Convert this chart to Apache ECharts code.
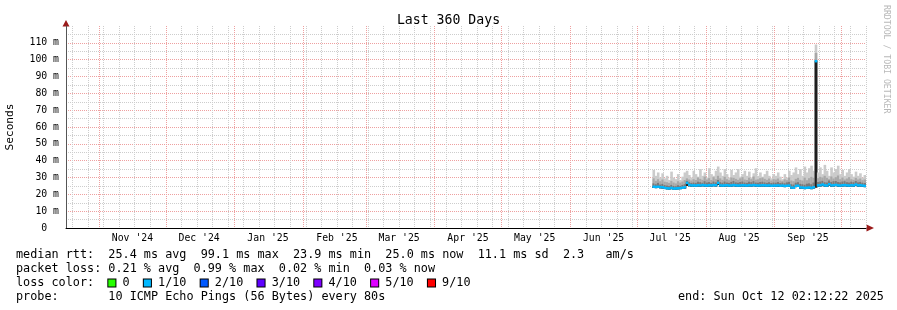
<!DOCTYPE html>
<html><head><meta charset="utf-8">
<script src="https://cdn.jsdelivr.net/npm/echarts@6/dist/echarts.min.js"></script>
<style>html,body{margin:0;padding:0;background:#fff}#c{width:897px;height:310px}</style>
</head><body><div id="c"></div>
<script>
// ---------- chart values ----------
const titleText = 'Last 360 Days';
const endTime = '2025-10-12T02:12:22Z';
const spanDays = 360;
const firstDay = '2025-07-08T12:00:00Z';   // one value per day from here on
const monthStarts = ['2024-11-01','2024-12-01','2025-01-01','2025-02-01','2025-03-01','2025-04-01',
                     '2025-05-01','2025-06-01','2025-07-01','2025-08-01','2025-09-01','2025-10-01'];
const monthLabels = ["Nov '24","Dec '24","Jan '25","Feb '25","Mar '25","Apr '25",
                     "May '25","Jun '25","Jul '25","Aug '25","Sep '25"];
const yTicks = [0,10,20,30,40,50,60,70,80,90,100,110];

// median rtt (ms), one per day
const median = [
 24.5,24.4,24.5,24.3,24.2,23.8,
 23.6,23.5,23.8,23.4,23.5,23.6,23.7,23.9,24.2,26.8,
 25.6,25.3,
 25.3,25.2,25.4,25.3,25.5,25.3,25.2,25.4,25.3,25.5,25.4,26.8,
 25.3,25.2,25.3,25.4,25.2,25.3,25.5,25.3,25.2,25.3,25.4,25.3,25.2,25.4,25.3,25.5,25.3,25.2,25.3,25.4,25.3,25.2,25.3,25.1,25.2,
 25.2,25.3,25.1,25.2,25.0,25.1,25.2,24.0,23.9,25.0,25.1,24.1,24.0,23.8,23.9,24.0,23.8,24.2,
 99.1,
 25.3,25.4,25.8,25.3,25.2,26.0,25.3,25.4,25.6,25.3,25.2,25.4,25.5,25.3,25.2,25.4,25.3,25.8,25.3,25.4,25.2,25.0
];
// lowest ping (ms)
const lowest = [
 23.8,23.7,23.9,23.6,23.5,23.2,
 23.0,22.9,23.1,22.8,22.9,23.0,23.1,23.2,23.5,25.0,
 24.8,24.6,
 24.6,24.5,24.7,24.6,24.8,24.6,24.5,24.7,24.6,24.8,24.7,25.6,
 24.6,24.5,24.6,24.7,24.5,24.6,24.8,24.6,24.5,24.6,24.7,24.6,24.5,24.7,24.6,24.8,24.6,24.5,24.6,24.7,24.6,24.5,24.6,24.4,24.5,
 24.5,24.6,24.4,24.5,24.3,24.4,24.5,23.4,23.2,24.3,24.4,23.4,23.3,23.1,23.2,23.3,23.1,23.5,
 24.0,
 24.6,24.7,25.0,24.6,24.5,25.2,24.6,24.7,24.9,24.6,24.5,24.7,24.8,24.6,24.5,24.7,24.6,25.0,24.6,24.7,24.5,24.3
];
// inner smoke top (ms)
const innerTop = [
 26.5,26.0,26.8,25.8,26.2,25.5,
 25.2,24.9,25.6,25.0,24.8,25.4,25.0,25.6,26.0,28.0,
 27.2,26.8,
 27.0,26.8,27.5,27.2,26.9,27.8,27.0,27.3,26.8,27.6,27.1,28.5,
 27.2,26.9,27.6,27.0,26.8,27.4,27.9,27.1,26.9,27.3,27.6,27.0,26.8,27.5,27.2,27.8,27.0,26.9,27.3,27.5,27.1,26.8,27.2,26.7,27.0,
 26.9,27.3,26.7,27.0,26.6,27.1,27.4,26.0,25.8,26.9,27.2,26.2,26.0,25.7,26.3,26.5,26.0,27.0,
 99.6,
 27.3,27.6,28.0,27.2,27.0,28.2,27.4,27.8,27.9,27.3,27.1,27.6,27.8,27.2,27.0,27.5,27.2,27.9,27.1,27.4,26.9,26.7
];
// middle smoke top (ms)
const midTop = [
 29.5,28.0,29.0,27.8,28.8,27.5,
 27.2,26.8,28.0,27.0,26.5,27.8,27.0,27.6,28.5,29.5,
 28.8,28.2,
 29.0,28.5,30.0,29.2,28.6,30.5,28.8,29.6,28.5,30.2,29.0,31.0,
 29.5,28.6,30.4,29.0,28.4,30.0,29.8,29.2,28.6,29.5,30.2,28.8,28.5,29.9,29.0,30.6,28.7,28.9,29.6,30.0,29.2,28.6,29.4,28.2,29.0,
 28.8,29.4,28.2,28.0,28.9,28.4,30.0,28.2,27.8,29.2,29.8,28.6,28.2,29.9,28.4,29.6,30.4,29.8,
 104.0,
 29.6,30.4,30.0,31.0,29.8,29.0,30.6,29.4,30.2,31.2,29.0,30.0,28.8,29.4,30.2,29.0,28.6,29.8,28.8,29.4,28.4,28.8
];
// highest ping (ms)
const outerTop = [
 34.5,31.0,33.0,30.0,32.5,29.5,
 31.0,28.5,33.5,30.0,29.0,32.0,28.5,30.5,33.0,34.0,
 31.5,30.0,
 34.0,32.0,30.5,35.0,31.0,33.0,30.0,35.5,32.0,31.0,34.0,36.5,
 33.0,31.0,35.0,32.0,30.0,34.5,31.5,33.0,35.0,30.5,32.0,34.0,31.0,33.5,30.0,32.5,35.5,31.0,33.0,30.5,32.0,34.0,31.0,29.5,32.0,
 31.0,33.0,30.5,29.0,32.0,30.0,34.0,31.5,33.0,36.0,32.0,35.0,31.0,36.5,33.0,35.5,37.0,34.0,
 109.0,
 33.0,36.0,32.0,37.5,34.0,31.0,36.0,33.0,35.0,37.0,32.0,34.5,31.0,33.0,35.0,32.0,30.5,33.5,31.0,32.5,30.0,31.5
];

const legendRows = [
 'median rtt:  25.4 ms avg  99.1 ms max  23.9 ms min  25.0 ms now  11.1 ms sd  2.3   am/s',
 'packet loss: 0.21 % avg  0.99 % max  0.02 % min  0.03 % now',
 null,
 'probe:       10 ICMP Echo Pings (56 Bytes) every 80s'
];
const lossNames  = ['0','1/10','2/10','3/10','4/10','5/10','9/10'];
const lossColors = ['#26ff00','#00b8ff','#0059ff','#5e00ff','#7e00ff','#dd00ff','#ff0000'];
const endText = 'end: Sun Oct 12 02:12:22 2025';
const watermark = 'RRDTOOL / TOBI OETIKER';

// ---------- build ----------
const DAY = 86400000;
const END = Date.parse(endTime);
const START = END - spanDays * DAY;
const FONT = 'DejaVu Sans Mono';
const t0 = Date.parse(firstDay);
const rows = median.map((m, i) => [t0 + i * DAY, lowest[i], m, innerTop[i], midTop[i], outerTop[i]]);

const monthTimes = monthStarts.map(s => Date.parse(s + 'T00:00:00Z')).filter(t => t > START && t < END);
const labelTimes = monthLabels.map((l, i) => Date.parse(monthStarts[i] + 'T00:00:00Z') + 15 * DAY);
const labelMap = {};
labelTimes.forEach((t, i) => labelMap[t] = monthLabels[i]);
const sundays = [];
{
  let d = new Date(START); d.setUTCHours(0,0,0,0);
  let t = d.getTime();
  while (new Date(t).getUTCDay() !== 0 || t < START) t += DAY;
  for (; t < END; t += 7 * DAY) sundays.push(t);
}

const minorColor = '#cdcdcd', majorColor = '#eea0a0';
const dotted = [1, 1];

function smokeItem(params, api) {
  const t = api.value(0);
  const xl = api.coord([t - DAY / 2, 0])[0];
  const xr = api.coord([t + DAY / 2, 0])[0];
  const lo = api.coord([t, api.value(1)])[1];
  const layers = [[5, '#cbcbcb'], [4, '#a8a8a8'], [3, '#7a7a7a'], [2, '#1e1e1e']];
  return { type: 'group', children: layers.map(([k, c]) => {
    const top = api.coord([t, api.value(k)])[1];
    return { type: 'rect', shape: { x: xl, y: top, width: xr - xl + 0.4, height: Math.max(0, lo - top) }, style: { fill: c } };
  }) };
}
function medianItem(params, api) {
  const t = api.value(0);
  const xl = api.coord([t - DAY / 2, 0])[0];
  const xr = api.coord([t + DAY / 2, 0])[0];
  const y = api.coord([t, api.value(2)])[1];
  return { type: 'rect', shape: { x: xl, y: y - 1.25, width: xr - xl + 0.4, height: 2.5 }, style: { fill: lossColors[1] } };
}

const rich = { b: {} };
lossColors.forEach((c, i) => rich['k' + i] = { width: 7.1, height: 7, backgroundColor: c, borderColor: '#000', borderWidth: 1, fontFamily: FONT, fontSize: 11.8 });
let lossLine = 'loss color:  ';
lossNames.forEach((n, i) => { lossLine += '{k' + i + '| }' + ' ' + n + (i < lossNames.length - 1 ? '  ' : ''); });

const rowY = [254.6, 268.8, 283.0, 297.2];
const graphics = [];
legendRows.forEach((txt, i) => {
  const text = txt === null ? lossLine : txt;
  graphics.push({ type: 'text', x: 16, y: rowY[i], style: { text, fontFamily: FONT, fontSize: 11.8, fill: '#000', verticalAlign: 'middle', rich: txt === null ? rich : undefined } });
});
graphics.push({ type: 'text', x: 678, y: rowY[3], style: { text: endText, fontFamily: FONT, fontSize: 11.8, fill: '#000', verticalAlign: 'middle' } });
graphics.push({ type: 'text', x: 886, y: 5, rotation: -Math.PI / 2, style: { text: watermark, fontFamily: FONT, fontSize: 8.2, fill: '#b8b8b8', align: 'left', verticalAlign: 'middle' } });
graphics.push({ type: 'polygon', shape: { points: [[62.5, 26.5], [69.5, 26.5], [66, 20]] }, style: { fill: '#9b1b1b' } });
graphics.push({ type: 'polygon', shape: { points: [[866.5, 224.5], [866.5, 231.5], [874, 228]] }, style: { fill: '#9b1b1b' } });

const chart = echarts.init(document.getElementById('c'), null, { renderer: 'canvas' });
chart.setOption({
  animation: false,
  backgroundColor: '#fff',
  title: { text: titleText, left: 'center', top: 14, padding: 0,
           textStyle: { fontFamily: FONT, fontSize: 13.2, fontWeight: 'normal', color: '#000' } },
  grid: { left: 66, right: 31, top: 26, bottom: 82, containLabel: false, outerBoundsMode: 'none' },
  xAxis: [
    { type: 'value', min: START, max: END, position: 'bottom',
      axisLine: { show: true, lineStyle: { color: '#000', width: 1 } },
      axisTick: { show: false, customValues: sundays },
      axisLabel: { customValues: labelTimes, formatter: v => labelMap[v] || '', margin: 5,
                   fontFamily: FONT, fontSize: 9.8, color: '#000', hideOverlap: false },
      splitLine: { show: true, lineStyle: { color: minorColor, type: dotted, width: 1 } } },
    { type: 'value', min: START, max: END, position: 'bottom',
      axisLine: { show: false }, axisTick: { show: false, customValues: monthTimes },
      axisLabel: { show: false },
      splitLine: { show: true, lineStyle: { color: majorColor, type: dotted, width: 1 } } }
  ],
  yAxis: [
    { type: 'value', min: 0, max: 120, interval: 5, position: 'left',
      name: 'Seconds', nameLocation: 'middle', nameRotate: 90, nameGap: 50,
      nameTextStyle: { fontFamily: FONT, fontSize: 11.2, color: '#000' },
      axisLine: { show: true, lineStyle: { color: '#555', width: 1 } },
      axisTick: { show: false }, axisLabel: { show: false },
      splitLine: { show: true, showMinLine: false, showMaxLine: false, lineStyle: { color: minorColor, type: dotted, width: 1 } } },
    { type: 'value', min: 0, max: 120, interval: 10, position: 'left', offset: 0,
      axisLine: { show: false }, axisTick: { show: false },
      axisLabel: { margin: 7, fontFamily: FONT, fontSize: 9.8, color: '#000',
                   formatter: v => yTicks.indexOf(v) < 0 ? '' : (v === 0 ? '0  ' : v + ' m') },
      splitLine: { show: true, showMinLine: false, showMaxLine: false, lineStyle: { color: majorColor, type: dotted, width: 1 } } }
  ],
  series: [
    { type: 'custom', name: 'smoke', xAxisIndex: 0, yAxisIndex: 0, data: rows, renderItem: smokeItem,
      encode: { x: 0, y: [1, 2, 3, 4, 5] }, clip: true, silent: true },
    { type: 'custom', name: 'median', xAxisIndex: 0, yAxisIndex: 0, data: rows, renderItem: medianItem,
      encode: { x: 0, y: 2 }, clip: true, silent: true, z: 3 }
  ],
  graphic: graphics
});
</script></body></html>
